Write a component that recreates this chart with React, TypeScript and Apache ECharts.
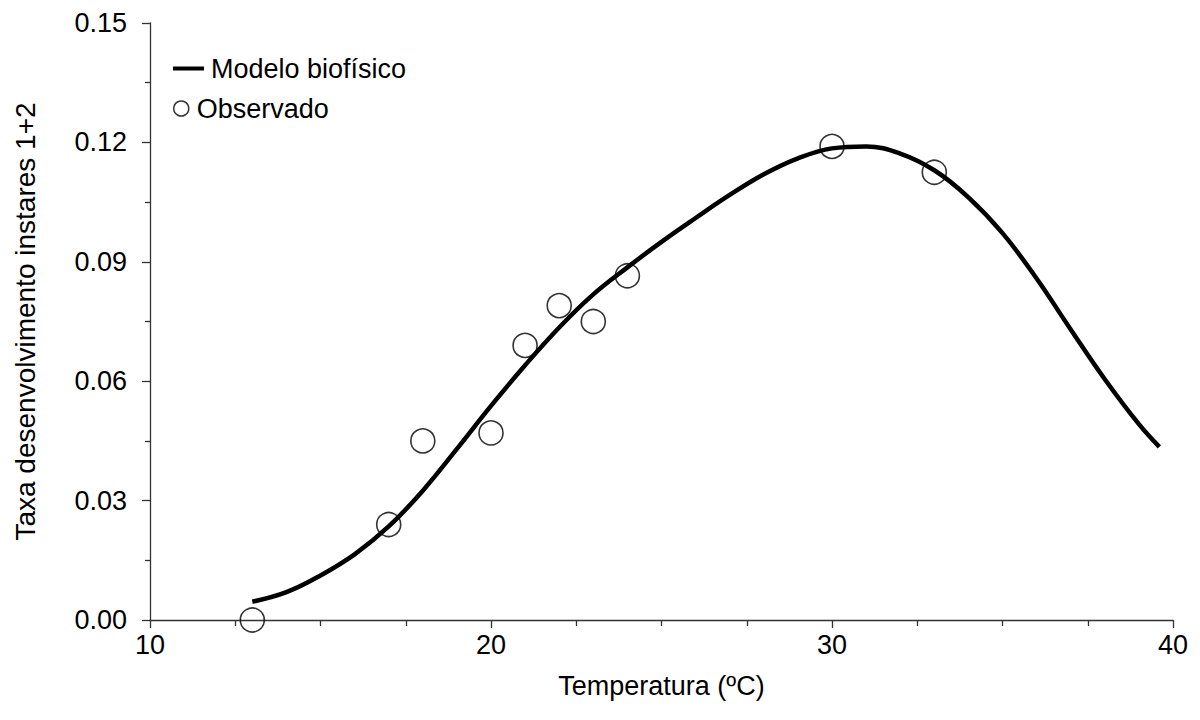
import React, { useEffect, useRef } from "react";
import * as echarts from "echarts";

const modelTemps = [13, 14, 15, 16, 17, 18, 19, 20, 21, 22, 23, 24, 25, 26, 27, 28, 29, 30, 31, 32, 33, 34, 35, 36, 37, 38, 39, 39.6];
const modelRates = [0.0046, 0.007, 0.0112, 0.0165, 0.0235, 0.0325, 0.043, 0.0538, 0.064, 0.0735, 0.0818, 0.0886, 0.095, 0.101, 0.1068, 0.112, 0.116, 0.1185, 0.119, 0.1172, 0.113, 0.1062, 0.0972, 0.0858, 0.073, 0.0605, 0.0492, 0.0435];

const obsTemps = [13, 17, 18, 20, 21, 22, 23, 24, 30, 33];
const obsRates = [0, 0.024, 0.045, 0.047, 0.069, 0.079, 0.075, 0.0865, 0.119, 0.1125];

const FONT = "'Liberation Sans', Arial, sans-serif";

export default function App() {
  const ref = useRef<HTMLDivElement>(null);
  useEffect(() => {
    if (!ref.current) return;
    const chart = echarts.init(ref.current, null, { renderer: "svg" });
    const axisColor = "#333";
    chart.setOption({
      animation: false,
      backgroundColor: "#fff",
      textStyle: { fontFamily: FONT },
      grid: { left: 150, right: 27, top: 23, bottom: 100 },
      legend: [
        {
          data: [{ name: "Modelo biofísico", icon: "rect" }],
          left: 173,
          top: 55,
          padding: 0,
          itemWidth: 31,
          itemHeight: 4,
          itemGap: 0,
          textStyle: { fontSize: 27, color: "#000", fontFamily: FONT, padding: [0, 0, 0, 2] },
          itemStyle: { color: "#000", borderWidth: 0 },
        },
        {
          data: [{ name: "Observado", icon: "circle" }],
          left: 173,
          top: 95,
          padding: 0,
          itemWidth: 15,
          itemHeight: 15,
          textStyle: { fontSize: 27, color: "#000", fontFamily: FONT, padding: [0, 0, 0, 3] },
          itemStyle: { color: "transparent", borderColor: "#000", borderWidth: 1.5 },
        },
      ],
      xAxis: {
        type: "value",
        min: 10,
        max: 40,
        interval: 10,
        name: "Temperatura (ºC)",
        nameLocation: "middle",
        nameGap: 52,
        nameTextStyle: { fontSize: 27, color: "#000", fontFamily: FONT },
        axisLine: { show: true, onZero: false, lineStyle: { color: axisColor, width: 1.3 } },
        axisTick: { show: true, inside: false, length: 8, lineStyle: { color: axisColor, width: 1.3 } },
        minorTick: { show: true, splitNumber: 4, length: 6, lineStyle: { color: axisColor, width: 1.3 } },
        axisLabel: { fontSize: 27, color: "#000", margin: 11, fontFamily: FONT },
        splitLine: { show: false },
      },
      yAxis: {
        type: "value",
        min: 0,
        max: 0.15,
        interval: 0.03,
        name: "Taxa desenvolvimento instares 1+2",
        nameLocation: "middle",
        nameGap: 111,
        nameTextStyle: { fontSize: 28, color: "#000", fontFamily: FONT },
        axisLine: { show: true, onZero: false, lineStyle: { color: axisColor, width: 1.3 } },
        axisTick: { show: true, inside: false, length: 8, lineStyle: { color: axisColor, width: 1.3 } },
        minorTick: { show: true, splitNumber: 2, length: 5, lineStyle: { color: axisColor, width: 1.3 } },
        axisLabel: {
          fontSize: 27,
          color: "#000",
          margin: 23,
          fontFamily: FONT,
          formatter: (v: number) => v.toFixed(2),
        },
        splitLine: { show: false },
      },
      series: [
        {
          name: "Modelo biofísico",
          type: "line",
          data: modelTemps.map((t, i) => [t, modelRates[i]]),
          smooth: 0.4,
          showSymbol: false,
          symbol: "none",
          lineStyle: { color: "#000", width: 4.5 },
          itemStyle: { color: "#000" },
          z: 2,
        },
        {
          name: "Observado",
          type: "scatter",
          data: obsTemps.map((t, i) => [t, obsRates[i]]),
          symbol: "circle",
          symbolSize: 24,
          clip: false,
          itemStyle: { color: "transparent", borderColor: "#000", borderWidth: 1.6 },
          z: 3,
        },
      ],
    });
    return () => chart.dispose();
  }, []);
  return <div ref={ref} style={{ width: 1200, height: 720, position: "absolute", left: 0, top: 0 }} />;
}
